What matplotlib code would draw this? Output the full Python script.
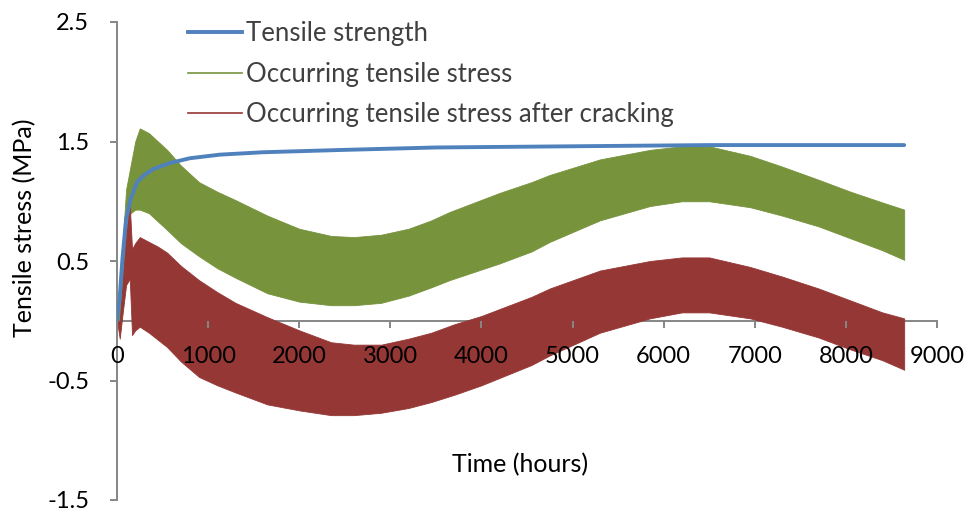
import matplotlib.pyplot as plt
from matplotlib.lines import Line2D

# tensile strength (hours, MPa)
strength_hours = [0, 30, 60, 100, 150, 220, 300, 400, 580, 800, 1130, 1600,
                  2500, 3500, 5000, 6500, 8640]
strength = [0, 0.2, 0.52, 0.85, 1.02, 1.16, 1.22, 1.27, 1.32, 1.36, 1.39, 1.41,
            1.43, 1.45, 1.46, 1.47, 1.47]

# occurring tensile stress, daily swing read as upper / lower envelope
stress_hours = [0, 40, 70, 100, 150, 200, 250, 350, 450, 550, 700, 900, 1100, 1300,
                1650, 2000, 2350, 2600, 2900, 3200, 3450, 3650, 4200, 4550, 4750,
                5300, 5850, 6200, 6500, 6950, 7300, 7700, 8050, 8400, 8640]
stress_hi = [0, 0.3, 0.75, 1.1, 1.3, 1.5, 1.61, 1.57, 1.50, 1.43, 1.30, 1.16, 1.08,
             1.01, 0.88, 0.77, 0.71, 0.70, 0.72, 0.77, 0.84, 0.91, 1.07, 1.16, 1.22,
             1.35, 1.43, 1.46, 1.46, 1.38, 1.29, 1.18, 1.08, 0.99, 0.93]
stress_lo = [0, 0.0, 0.4, 0.85, 0.9, 0.93, 0.93, 0.90, 0.83, 0.76, 0.65, 0.54, 0.44,
             0.36, 0.23, 0.16, 0.13, 0.13, 0.15, 0.21, 0.28, 0.34, 0.48, 0.58, 0.66,
             0.84, 0.96, 1.00, 1.00, 0.95, 0.88, 0.79, 0.69, 0.59, 0.51]

# occurring tensile stress after cracking
crack_hours = [0, 30, 60, 100, 140, 165, 200, 250, 350, 450, 550, 700, 900, 1100,
               1300, 1650, 2000, 2350, 2600, 2900, 3200, 3450, 3700, 4000, 4550, 4750,
               5300, 5850, 6200, 6500, 6950, 7300, 7700, 8050, 8400, 8640]
crack_hi = [0, 0.0, 0.3, 0.75, 0.97, 0.6, 0.65, 0.70, 0.66, 0.62, 0.57, 0.46, 0.34,
            0.24, 0.15, 0.03, -0.08, -0.18, -0.20, -0.20, -0.15, -0.10, -0.03, 0.04,
            0.20, 0.27, 0.42, 0.50, 0.53, 0.53, 0.45, 0.37, 0.27, 0.17, 0.07, 0.02]
crack_lo = [0, -0.15, 0.05, 0.3, 0.35, -0.12, -0.08, -0.05, -0.10, -0.16, -0.22, -0.34,
            -0.47, -0.54, -0.60, -0.70, -0.75, -0.79, -0.79, -0.77, -0.73, -0.68,
            -0.62, -0.54, -0.37, -0.29, -0.10, 0.02, 0.07, 0.07, 0.02, -0.05, -0.14,
            -0.24, -0.33, -0.41]

yticks = [-1.5, -0.5, 0.5, 1.5, 2.5]
ytick_labels = ['-1.5', '-0.5', '0.5', '1.5', '2.5']
xticks = list(range(0, 9001, 1000))

blue = '#4F81BD'
green = '#77933C'
red = '#953735'
grey = '#868686'

plt.rcParams['font.family'] = ['Lato', 'DejaVu Sans']

fig = plt.figure(figsize=(9.69, 5.15), dpi=100)
ax = fig.add_axes([117 / 969, 1 - 500 / 515, 820 / 969, 478 / 515])
ax.set_axisbelow(False)  # tick labels sit on top of the bands, like Excel

ax.fill_between(stress_hours, stress_lo, stress_hi, color=green, lw=0.6, zorder=1.5)
ax.fill_between(crack_hours, crack_lo, crack_hi, color=red, lw=0.6, zorder=1.6)
ax.plot(strength_hours, strength, color=blue, lw=2.8, zorder=2.2,
        solid_capstyle='round')

ax.set_xlim(0, 9000)
ax.set_ylim(-1.5, 2.5)
ax.set_xticks(xticks)
ax.set_xticklabels([str(v) for v in xticks])
ax.set_yticks(yticks)
ax.set_yticklabels(ytick_labels)

for s in ['top', 'right']:
    ax.spines[s].set_visible(False)
ax.spines['bottom'].set_position(('data', 0))
for s in ['left', 'bottom']:
    ax.spines[s].set_color(grey)
    ax.spines[s].set_linewidth(1.4)
    ax.spines[s].set_zorder(1)

ax.tick_params(axis='x', direction='out', length=5, width=1.4, color=grey,
               labelsize=17, pad=13)
ax.tick_params(axis='y', direction='out', length=5, width=1.4, color=grey,
               labelsize=17, pad=15)

fig.text(25 / 969, 1 - 228 / 515, 'Tensile stress (MPa)', rotation=90,
         ha='center', va='center', fontsize=18)
fig.text(520 / 969, 1 - 465 / 515, 'Time (hours)', ha='center', va='center',
         fontsize=18)

handles = [Line2D([], [], color=blue, lw=2.8),
           Line2D([], [], color=green, lw=1.2),
           Line2D([], [], color=red, lw=1.2)]
labels = ['Tensile strength', 'Occurring tensile stress',
          'Occurring tensile stress after cracking']
leg = ax.legend(handles, labels, frameon=False, loc='upper left',
                bbox_to_anchor=(178 / 969, 1 - 11 / 515),
                bbox_transform=fig.transFigure, fontsize=18.5,
                handlelength=2.1, handletextpad=0.15, labelspacing=0.6,
                borderaxespad=0)
for t in leg.get_texts():
    t.set_color('#404040')

fig.savefig('out.png', dpi=100)
